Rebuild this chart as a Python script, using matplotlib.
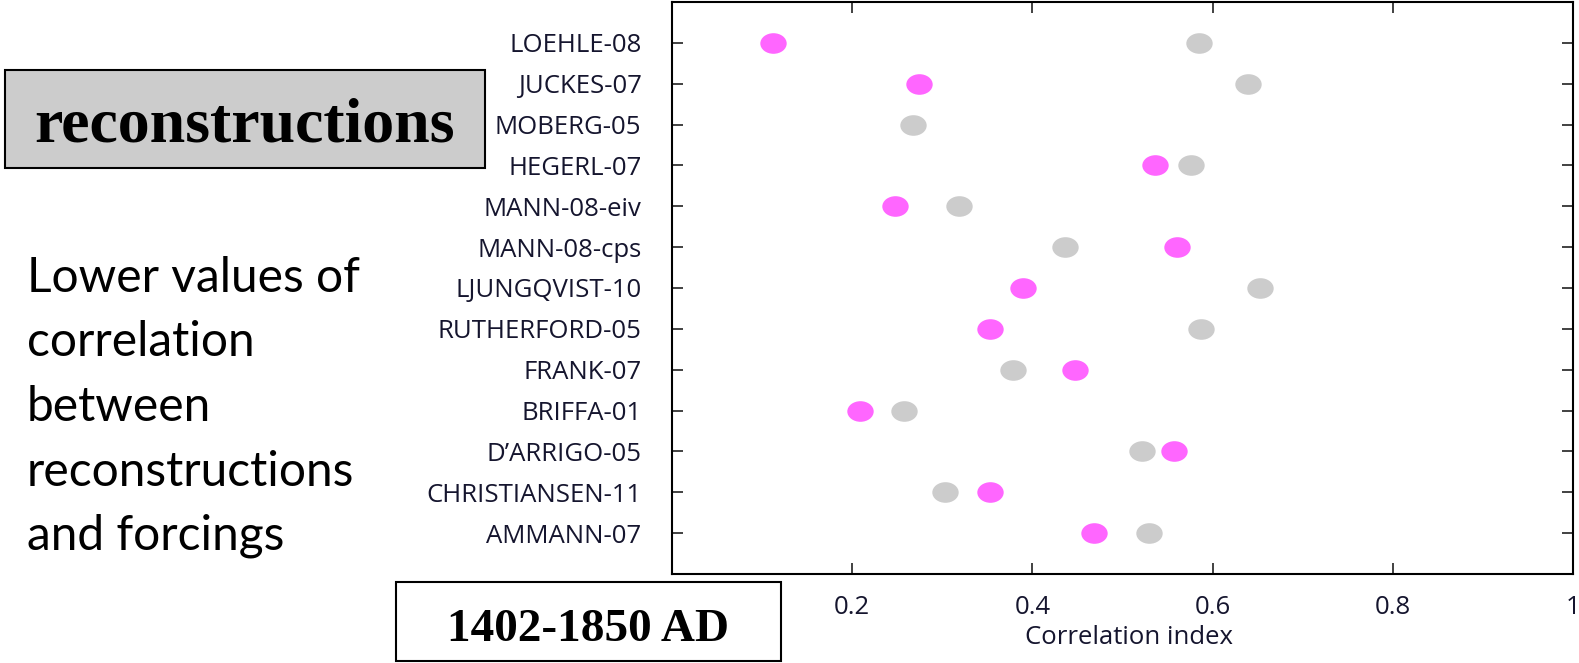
import numpy as np
import matplotlib
matplotlib.use("Agg")
import matplotlib.pyplot as plt
from matplotlib.patches import Rectangle
from matplotlib.path import Path

# data, top row first
names = ['LOEHLE-08', 'JUCKES-07', 'MOBERG-05', 'HEGERL-07', 'MANN-08-eiv',
         'MANN-08-cps', 'LJUNGQVIST-10', 'RUTHERFORD-05', 'FRANK-07',
         'BRIFFA-01', 'D\u2019ARRIGO-05', 'CHRISTIANSEN-11', 'AMMANN-07']
pink_vals = [0.112, 0.274, np.nan, 0.536, 0.247, 0.560, 0.390, 0.353,
             0.447, 0.209, 0.557, 0.353, 0.468]
grey_vals = [0.585, 0.639, 0.268, 0.576, 0.319, 0.436, 0.653, 0.587,
             0.378, 0.258, 0.522, 0.303, 0.529]
xticks = [0, 0.2, 0.4, 0.6, 0.8, 1]
xticklabels = ['', '0.2', '0.4', '0.6', '0.8', '1']

W, H = 1579, 663
fig = plt.figure(figsize=(W / 100, H / 100), dpi=100)

def fx(px):
    return px / W

def fy(py):
    return 1 - py / H

ax = fig.add_axes([fx(672), fy(574), fx(1573) - fx(672), fy(2) - fy(574)])

# slightly wide ellipse marker
circ = Path.unit_circle()
ell = Path(circ.vertices * np.array([1.28, 1.0]), circ.codes)

y = np.arange(len(names))
ax.plot(grey_vals, y, linestyle='none', marker=ell, markersize=19,
        color='#cccccc', markeredgewidth=0)
ax.plot(pink_vals, y, linestyle='none', marker=ell, markersize=19,
        color='#ff66ff', markeredgewidth=0)

ax.set_xlim(0, 1)
ax.set_ylim(len(names), -1)
ax.set_yticks(y)
ax.set_yticklabels(names)
ax.set_xticks(xticks)
ax.set_xticklabels(xticklabels)

label_col = '#15152e'
tick_font = 'Open Sans'
for lab in ax.get_yticklabels() + ax.get_xticklabels():
    lab.set_fontfamily(tick_font)
    lab.set_fontsize(18.5)
    lab.set_color(label_col)

ax.tick_params(axis='both', direction='in', length=8, width=1.3,
               color='#333333', top=True, right=True)
ax.tick_params(axis='y', pad=22)
ax.tick_params(axis='x', pad=15)
for sp in ax.spines.values():
    sp.set_linewidth(1.5)
    sp.set_color('black')

ax.set_xlabel('Correlation index', fontfamily=tick_font, fontsize=18.5,
              color=label_col, va='center')
ax.xaxis.set_label_coords(0.507, (574 - 638) / 572)

# boxes with titles
fig.patches.append(Rectangle((fx(5), fy(168)), fx(485) - fx(5), fy(70) - fy(168),
                             transform=fig.transFigure, facecolor='#cccccc',
                             edgecolor='black', linewidth=1.5))
fig.text(fx(245), fy(142), 'reconstructions', ha='center', va='baseline',
         fontfamily='Liberation Serif', fontweight='bold', fontsize=46)

fig.patches.append(Rectangle((fx(396), fy(661)), fx(781) - fx(396), fy(582) - fy(661),
                             transform=fig.transFigure, facecolor='white',
                             edgecolor='black', linewidth=1.5))
fig.text(fx(588), fy(641), '1402-1850 AD', ha='center', va='baseline',
         fontfamily='Liberation Serif', fontweight='bold', fontsize=34)

# side note
note = ['Lower values of', 'correlation', 'between', 'reconstructions', 'and forcings']
for i, line in enumerate(note):
    fig.text(fx(27), fy(292 + 64.5 * i), line, ha='left', va='baseline',
             fontfamily='Lato', fontsize=34.5, color='black')

fig.savefig('out.png', dpi=100)
